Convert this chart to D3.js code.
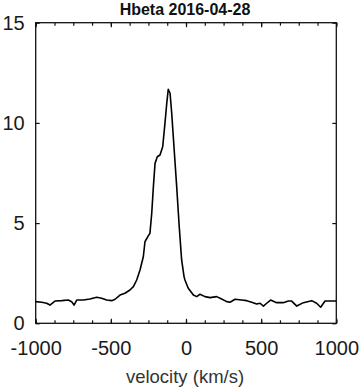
<!DOCTYPE html>
<html>
<head>
<meta charset="utf-8">
<script src="https://cdn.jsdelivr.net/npm/d3@7"></script>
<style>
  body { margin: 0; background: #fff; }
  svg { display: block; }
  .frame { fill: none; stroke: #111; stroke-width: 1.3px; }
  .axis path { display: none; }
  .axis line { stroke: #111; stroke-width: 1.2px; }
  .axis text { font-family: "Liberation Sans", Arial, sans-serif; font-size: 20px; fill: #1a1a1a; }
</style>
</head>
<body>
<div id="chart"></div>
<script>
// Hbeta line profile
var velocity = [-1000, -960, -927, -905, -872, -827, -783, -761, -745, -727, -683, -639,
  -594, -561, -528, -494, -472, -439, -406, -373, -350, -328, -306, -284, -273, -251,
  -240, -228, -217, -206, -191, -173, -155, -140, -128, -118, -106, -95, -80, -62, -45,
  -29, -13, -7, 15, 49, 71, 93, 126, 160, 204, 237, 271, 293, 326, 370, 404, 437, 470,
  493, 515, 537, 563, 603, 647, 681, 703, 737, 781, 836, 869, 896, 925, 960, 1000];
var flux = [1.08, 1.05, 1.00, 0.91, 1.11, 1.13, 1.16, 1.08, 0.91, 1.16, 1.16, 1.21,
  1.30, 1.25, 1.16, 1.13, 1.20, 1.41, 1.50, 1.66, 1.83, 2.16, 2.66, 3.32, 4.07, 4.36,
  4.49, 5.49, 6.82, 7.98, 8.31, 8.40, 8.81, 9.98, 10.98, 11.68, 11.48, 10.48, 8.81, 6.82, 4.82,
  3.16, 2.33, 2.16, 1.75, 1.41, 1.33, 1.45, 1.33, 1.28, 1.33, 1.21, 1.08, 1.05, 1.20, 1.16, 1.13, 1.05, 0.96,
  1.00, 0.86, 1.00, 1.16, 1.03, 1.03, 1.11, 1.11, 0.86, 1.03, 1.13, 1.00, 0.80, 1.11, 1.11, 1.11];

var xMajor = [-1000, -500, 0, 500, 1000];
var xMinor = d3.range(-1000, 1001, 125);
var yMajor = [0, 5, 10, 15];

var width = 364, height = 392;
var margin = { top: 22.7, right: 27.7, bottom: 68.7, left: 35.7 };

var svg = d3.select("#chart").append("svg")
    .attr("width", width)
    .attr("height", height);

var x = d3.scaleLinear()
    .domain([-1000, 1000])
    .range([margin.left, width - margin.right]);

var y = d3.scaleLinear()
    .domain([0, 15])
    .range([height - margin.bottom, margin.top]);

var plotH = height - margin.bottom - margin.top;
var plotW = width - margin.right - margin.left;

// plain hyphen, like the original labels
var fmt = function (d) { return String(d); };

// minor x ticks, bottom and top, pointing in
svg.append("g").attr("class", "axis")
    .attr("transform", `translate(0, ${height - margin.bottom})`)
    .call(d3.axisBottom(x).tickValues(xMinor).tickSize(-3).tickFormat(""));
svg.append("g").attr("class", "axis")
    .attr("transform", `translate(0, ${margin.top})`)
    .call(d3.axisTop(x).tickValues(xMinor).tickSize(-3).tickFormat(""));

// major x ticks with labels
svg.append("g").attr("class", "axis")
    .attr("transform", `translate(0, ${height - margin.bottom})`)
    .call(d3.axisBottom(x).tickValues(xMajor).tickSizeInner(-4.5).tickSizeOuter(0).tickPadding(18).tickFormat(fmt));
svg.append("g").attr("class", "axis")
    .attr("transform", `translate(0, ${margin.top})`)
    .call(d3.axisTop(x).tickValues(xMajor).tickSize(-4.5).tickFormat(""));

// y ticks, left and right
svg.append("g").attr("class", "axis")
    .attr("transform", `translate(${margin.left}, 0)`)
    .call(d3.axisLeft(y).tickValues(yMajor).tickSizeInner(-4).tickSizeOuter(0).tickPadding(11).tickFormat(fmt));
svg.append("g").attr("class", "axis")
    .attr("transform", `translate(${width - margin.right}, 0)`)
    .call(d3.axisRight(y).tickValues(yMajor).tickSize(-4).tickFormat(""));

// frame
svg.append("rect")
    .attr("class", "frame")
    .attr("x", margin.left)
    .attr("y", margin.top)
    .attr("width", plotW)
    .attr("height", plotH);

// the profile
var line = d3.line()
    .x(function (d, i) { return x(velocity[i]); })
    .y(function (d) { return y(d); });

svg.append("path")
    .datum(flux)
    .attr("fill", "none")
    .attr("stroke", "#000")
    .attr("stroke-width", 1.6)
    .attr("stroke-linejoin", "round")
    .attr("d", line);

// title and axis label
svg.append("text")
    .attr("x", 185)
    .attr("y", 14.5)
    .attr("text-anchor", "middle")
    .attr("font-family", "Liberation Sans, Arial, sans-serif")
    .attr("font-weight", "bold")
    .attr("font-size", "16px")
    .attr("fill", "#111")
    .text("Hbeta 2016-04-28");

svg.append("text")
    .attr("x", 185)
    .attr("y", 383)
    .attr("text-anchor", "middle")
    .attr("font-family", "Liberation Sans, Arial, sans-serif")
    .attr("font-size", "18.5px")
    .attr("fill", "#333")
    .text("velocity (km/s)");
</script>
</body>
</html>
